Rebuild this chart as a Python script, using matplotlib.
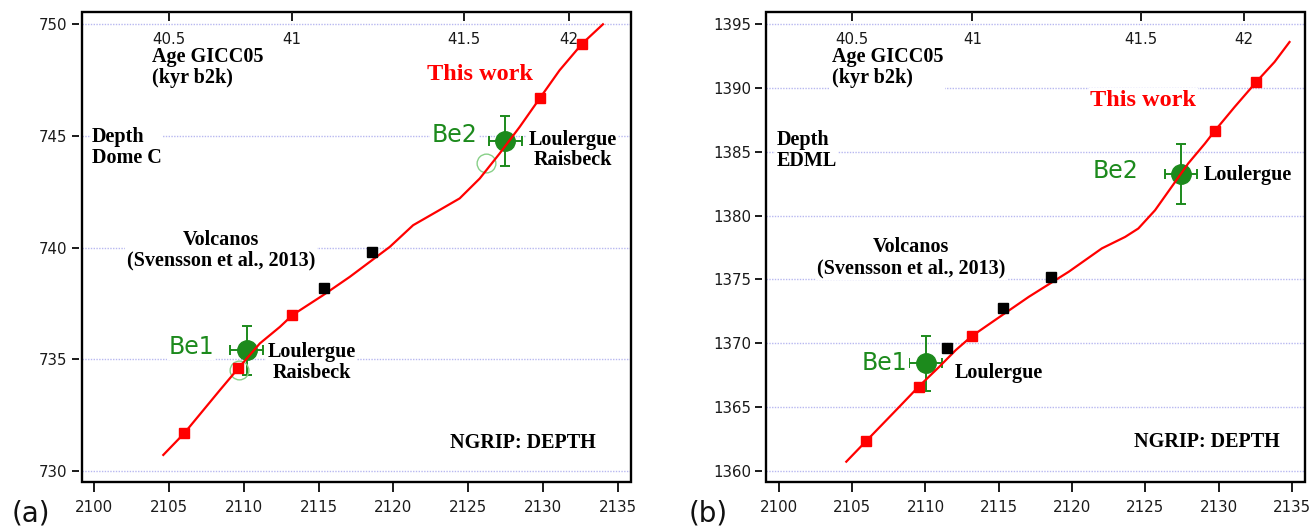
import matplotlib
matplotlib.use("Agg")
import matplotlib.pyplot as plt
from matplotlib.patches import Rectangle

# ---------------------------------------------------------------
# Data
# ---------------------------------------------------------------
# GICC05 age ticks (kyr b2k) and the NGRIP depths (m) they fall at
age_ticks = [40.5, 41, 41.5, 42]
age_tick_depth = [2105.0, 2113.2, 2124.7, 2131.7]

# (a) NGRIP vs Dome C depth: new synchronisation curve
ngrip_curve_a = [2104.63, 2106.03, 2108.41, 2109.63, 2111.08, 2112.42, 2113.26,
                 2115.31, 2117.09, 2119.76, 2121.32, 2122.88, 2124.43, 2125.77,
                 2127.10, 2128.44, 2129.77, 2131.10, 2132.62, 2134.00]
domec_curve = [730.72, 731.69, 733.62, 734.59, 735.71, 736.45, 736.98,
               737.87, 738.69, 740.03, 741.00, 741.60, 742.20, 743.09,
               744.21, 745.40, 746.67, 747.93, 749.13, 749.99]
# tie points of the new curve
ngrip_tie_a = [2106.03, 2109.63, 2113.26, 2129.77, 2132.62]
domec_tie = [731.69, 734.59, 736.98, 746.67, 749.13]
# volcanic matches (Svensson et al., 2013)
ngrip_volc_a = [2115.37, 2118.60]
domec_volc = [738.20, 739.81]
# 10Be peaks (Loulergue) with uncertainties
be_ngrip_a = [2110.19, 2127.48]
be_domec = [735.41, 744.77]
be_xerr_a = [1.1, 1.1]
be_yerr_a = [1.1, 1.1]
# 10Be peaks (Raisbeck)
be_raisbeck_ngrip = [2109.70, 2126.21]
be_raisbeck_domec = [734.52, 743.79]

# (b) NGRIP vs EDML depth
ngrip_curve_b = [2104.60, 2105.96, 2108.00, 2109.53, 2110.94, 2112.07, 2113.16,
                 2115.24, 2117.05, 2119.77, 2122.03, 2123.62, 2124.52, 2125.66,
                 2126.79, 2127.92, 2129.06, 2129.73, 2131.09, 2132.56, 2133.81,
                 2134.83]
edml_curve = [1360.73, 1362.35, 1364.77, 1366.60, 1368.16, 1369.47, 1370.56,
              1372.21, 1373.64, 1375.60, 1377.43, 1378.33, 1378.99, 1380.42,
              1382.25, 1384.08, 1385.64, 1386.63, 1388.51, 1390.46, 1392.03,
              1393.59]
ngrip_tie_b = [2105.96, 2109.53, 2113.16, 2129.73, 2132.56]
edml_tie = [1362.35, 1366.60, 1370.56, 1386.63, 1390.46]
ngrip_volc_b = [2111.50, 2115.31, 2118.53]
edml_volc = [1369.60, 1372.78, 1375.20]
be_ngrip_b = [2110.03, 2127.42]
be_edml = [1368.43, 1383.24]
be_xerr_b = [1.13, 1.08]
be_yerr_b = [2.15, 2.35]

xticks = [2100, 2105, 2110, 2115, 2120, 2125, 2130, 2135]
yticks_a = [730, 735, 740, 745, 750]
yticks_b = [1360, 1365, 1370, 1375, 1380, 1385, 1390, 1395]

# ---------------------------------------------------------------
# Styling
# ---------------------------------------------------------------
RED = "#ff0000"
GREEN = "#1c8a1c"
LIGHT_GREEN = "#88d088"
GRID = "#b8b8f0"
TICK = "#1a1a1a"
SERIF = "Liberation Serif"
SANS = "DejaVu Sans"

plt.rcParams["font.family"] = SANS

fig = plt.figure(figsize=(13.12, 5.31), dpi=100)
ax_a = fig.add_axes([0.0625, 0.0923, 0.4184, 0.8851])
ax_b = fig.add_axes([0.5838, 0.0923, 0.4108, 0.8851])

box = dict(facecolor="white", edgecolor="none", pad=1.0)


def label(ax, x, y, s, **kw):
    opts = dict(fontfamily=SERIF, fontweight="bold", fontsize=14.5,
                color="black", ha="center", va="center", linespacing=1.05,
                bbox=box, zorder=3)
    opts.update(kw)
    ax.text(x, y, s, **opts)


def be_label(ax, x, y, s):
    label(ax, x, y, s, fontfamily=SANS, fontweight="normal", fontsize=17,
          color=GREEN)


def setup_axes(ax, xlim, ylim, yticks):
    ax.set_xlim(*xlim)
    ax.set_ylim(*ylim)
    ax.set_xticks(xticks)
    ax.set_yticks(yticks)
    for side in ("left", "right", "top", "bottom"):
        ax.spines[side].set_visible(False)
    ax.spines["left"].set_position(("outward", 2.5))
    ax.spines["bottom"].set_position(("outward", 1.0))
    ax.tick_params(axis="y", direction="out", length=5, width=1.4,
                   pad=3, labelsize=10.8, colors=TICK)
    ax.tick_params(axis="x", direction="out", length=6.5, width=1.4,
                   pad=5.5, labelsize=10.8, colors=TICK)
    for yv in yticks:
        ax.axhline(yv, color=GRID, lw=1.0, ls=(0, (1, 1)), zorder=0.5)
    ax.add_patch(Rectangle((0, 0), 1, 1, transform=ax.transAxes, fill=False,
                           lw=1.7, ec="black", clip_on=False, zorder=6))
    # top axis: GICC05 age
    top = ax.twiny()
    top.set_xlim(*xlim)
    top.set_xticks(age_tick_depth)
    top.set_xticklabels([f"{a:g}" for a in age_ticks])
    for side in ("left", "right", "top", "bottom"):
        top.spines[side].set_visible(False)
    top.tick_params(axis="x", direction="in", length=6.5, width=1.4,
                    pad=-25, labelsize=10.8, colors=TICK)
    return top


def draw_data(ax, xc, yc, xt, yt, xv, yv, xb, yb, xe, ye):
    ax.errorbar(xb, yb, xerr=xe, yerr=ye, fmt="o", color=GREEN, ms=14,
                elinewidth=1.4, capsize=3.5, capthick=1.4, zorder=2)
    ax.plot(xc, yc, color=RED, lw=1.6, zorder=3)
    ax.plot(xt, yt, "s", color=RED, ms=7.2, zorder=4)
    ax.plot(xv, yv, "s", color="black", ms=7.2, zorder=4)


# ---------------- panel (a) ----------------
setup_axes(ax_a, (2099.2, 2135.87), (729.51, 750.54), yticks_a)
draw_data(ax_a, ngrip_curve_a, domec_curve, ngrip_tie_a, domec_tie,
          ngrip_volc_a, domec_volc, be_ngrip_a, be_domec, be_xerr_a, be_yerr_a)
ax_a.plot(be_raisbeck_ngrip, be_raisbeck_domec, "o", mfc="none",
          mec=LIGHT_GREEN, mew=1.0, ms=13.5, zorder=2.5)

label(ax_a, 2103.87, 748.05, "Age GICC05\n(kyr b2k)", ha="left")
label(ax_a, 2099.87, 744.47, "Depth\nDome C", ha="left")
label(ax_a, 2108.48, 739.88, "Volcanos\n(Svensson et al., 2013)")
label(ax_a, 2125.77, 747.75, "This work", color=RED, fontsize=17.5)
label(ax_a, 2131.98, 744.36, "Loulergue\nRaisbeck")
label(ax_a, 2114.55, 734.87, "Loulergue\nRaisbeck")
label(ax_a, 2128.64, 731.25, "NGRIP: DEPTH")
be_label(ax_a, 2124.10, 745.03, "Be2")
be_label(ax_a, 2106.48, 735.55, "Be1")

# ---------------- panel (b) ----------------
setup_axes(ax_b, (2099.12, 2135.88), (1359.14, 1395.94), yticks_b)
draw_data(ax_b, ngrip_curve_b, edml_curve, ngrip_tie_b, edml_tie,
          ngrip_volc_b, edml_volc, be_ngrip_b, be_edml, be_xerr_b, be_yerr_b)

label(ax_b, 2103.60, 1391.57, "Age GICC05\n(kyr b2k)", ha="left")
label(ax_b, 2099.86, 1385.08, "Depth\nEDML", ha="left")
label(ax_b, 2109.04, 1376.70, "Volcanos\n(Svensson et al., 2013)")
label(ax_b, 2124.86, 1389.03, "This work", color=RED, fontsize=17.5)
label(ax_b, 2132.00, 1383.16, "Loulergue")
label(ax_b, 2115.01, 1367.67, "Loulergue")
label(ax_b, 2129.20, 1362.27, "NGRIP: DEPTH")
be_label(ax_b, 2122.96, 1383.47, "Be2")
be_label(ax_b, 2107.20, 1368.45, "Be1")

fig.text(0.009, 0.006, "(a)", fontsize=20, color="#111111", va="bottom")
fig.text(0.5245, 0.006, "(b)", fontsize=20, color="#111111", va="bottom")

fig.savefig("out.png", dpi=100, facecolor="white")
